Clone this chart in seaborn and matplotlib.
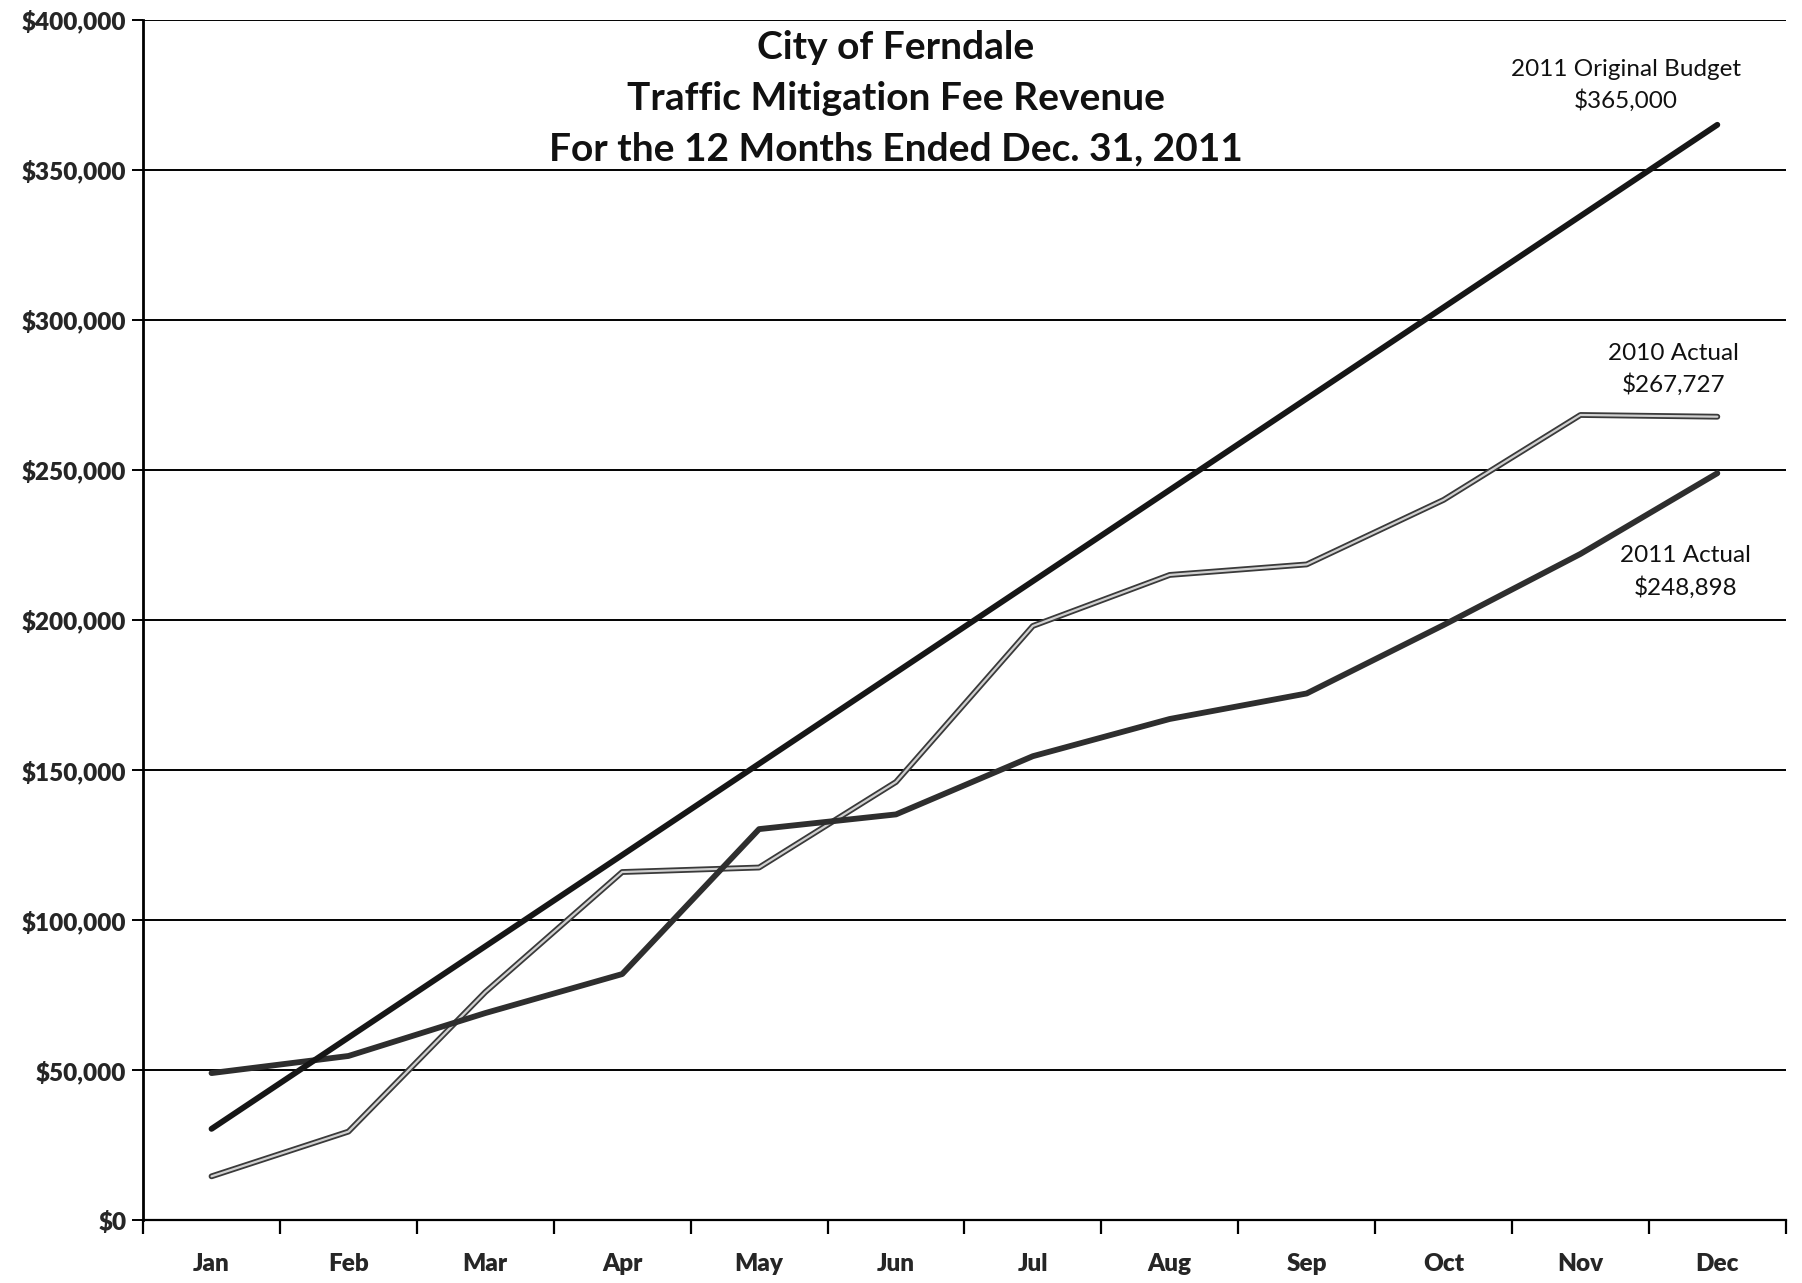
import numpy as np
import pandas as pd
import matplotlib
matplotlib.use("Agg")
import matplotlib.pyplot as plt
import seaborn as sns

# Traffic mitigation fee revenue, cumulative by month
months = ["Jan", "Feb", "Mar", "Apr", "May", "Jun",
          "Jul", "Aug", "Sep", "Oct", "Nov", "Dec"]
budget_2011 = [30417, 60833, 91250, 121667, 152083, 182500,
               212917, 243333, 273750, 304167, 334583, 365000]
actual_2010 = [14600, 29500, 76000, 116000, 117500, 146000,
               198000, 215000, 218500, 240000, 268300, 267727]
actual_2011 = [49000, 54700, 69000, 82000, 130300, 135200,
               154600, 167000, 175500, 198300, 222000, 248898]

yticks = list(range(0, 400001, 50000))
ytick_labels = [f"${v:,}" for v in yticks]

labels = ["2011 Original Budget\n$365,000", "2010 Actual\n$267,727", "2011 Actual\n$248,898"]
label_x = [10.33, 10.68, 10.77]
label_y = [378000, 283500, 216000]

df = pd.DataFrame({
    "month": np.tile(np.arange(len(months)), 3),
    "revenue": budget_2011 + actual_2010 + actual_2011,
    "series": ["budget"] * 12 + ["2010"] * 12 + ["2011"] * 12,
})

sns.set_theme(style="white")
plt.rcParams["font.family"] = ["Lato", "DejaVu Sans"]

fig = plt.figure(figsize=(18.02, 12.83), dpi=100)
ax = fig.add_axes([0.0794, 0.049, 0.9116, 0.9356])

# gridlines
for v in yticks:
    ax.axhline(v, color="black", lw=1.4, zorder=1)

sns.lineplot(data=df[df.series == "2010"], x="month", y="revenue",
             color="#3a3a3a", lw=4.2, ax=ax, zorder=3, legend=False)
sns.lineplot(data=df[df.series == "2010"], x="month", y="revenue",
             color="#d0d0d0", lw=1.6, ax=ax, zorder=4, legend=False)
sns.lineplot(data=df[df.series == "2011"], x="month", y="revenue",
             color="#2e2e2e", lw=4.2, ax=ax, zorder=5, legend=False)
sns.lineplot(data=df[df.series == "budget"], x="month", y="revenue",
             color="#161616", lw=4.2, ax=ax, zorder=6, legend=False)

ax.set_xlim(-0.5, 11.5)
ax.set_ylim(0, 400000)
ax.set_xlabel("")
ax.set_ylabel("")

ax.set_xticks(np.arange(-0.5, 12, 1), minor=True)
ax.set_xticks(np.arange(12))
ax.set_xticklabels(months, fontsize=17.5, fontweight="heavy")
ax.tick_params(axis="x", which="major", length=0, pad=24)
ax.tick_params(axis="x", which="minor", length=10, width=1.6, color="black", direction="out", bottom=True)

ax.set_yticks(yticks)
ax.set_yticklabels(ytick_labels, fontsize=17.5, fontweight="heavy")
ax.tick_params(axis="y", length=8, width=1.4, color="black", direction="out", left=True, pad=4)

for s in ["top", "right"]:
    ax.spines[s].set_visible(False)
ax.spines["left"].set_color("black")
ax.spines["left"].set_linewidth(2)
ax.spines["bottom"].set_color("black")
ax.spines["bottom"].set_linewidth(1.6)

ax.text(5.0, 373800, "City of Ferndale\nTraffic Mitigation Fee Revenue\nFor the 12 Months Ended Dec. 31, 2011",
        ha="center", va="center", fontsize=28, fontweight="bold", linespacing=1.54, color="#111111")

for lab, lx, ly in zip(labels, label_x, label_y):
    ax.text(lx, ly, lab, ha="center", va="center", fontsize=17.5, linespacing=1.5, color="#111111")

fig.savefig("out.png", dpi=100, facecolor="white")
